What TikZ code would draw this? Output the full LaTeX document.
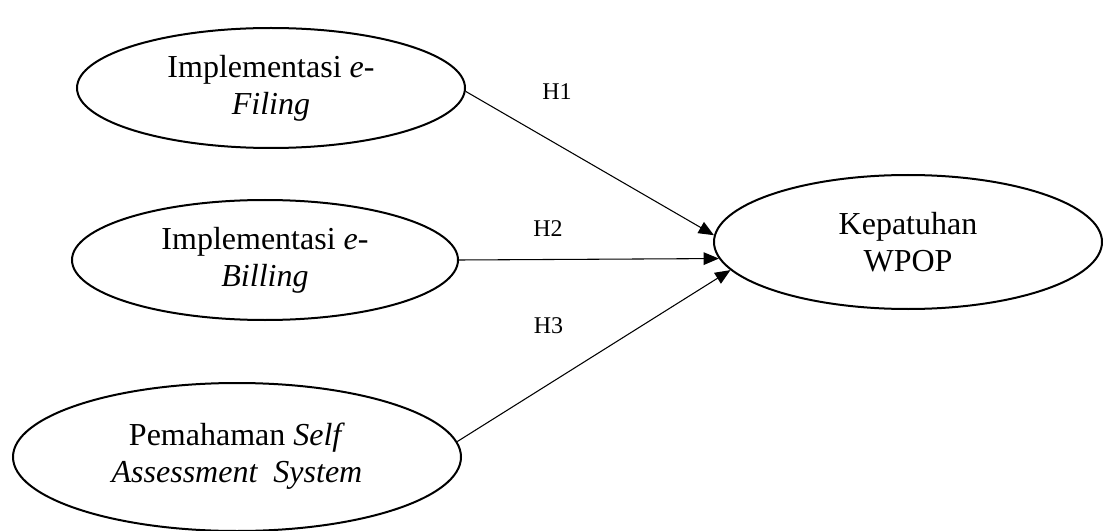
\documentclass[tikz,border=0pt]{standalone}
\usepackage{fontspec}
\setmainfont{Liberation Serif}
\usetikzlibrary{shapes.geometric,arrows.meta}
\begin{document}
\begin{tikzpicture}[x=0.75pt,y=-0.75pt,
  var/.style={ellipse,draw=black,line width=1.5pt,inner sep=0pt,align=center,
    font=\fontsize{24}{27.6}\selectfont},
  hyp/.style={font=\fontsize{18}{21}\selectfont,inner sep=0pt},
  path/.style={line width=0.8pt,-{Triangle[length=11.5pt,width=9.5pt]}}]
\useasboundingbox (0,0) rectangle (1103,531);
\node[var,minimum width=291pt,minimum height=90pt] (e1) at (271,88)
  {Implementasi \textit{e-}\\\textit{Filing}};
\node[var,minimum width=289.5pt,minimum height=90pt] (e2) at (265,260)
  {Implementasi \textit{e-}\\\textit{Billing}};
\node[var,minimum width=336pt,minimum height=111pt] (e3) at (237,457)
  {\raisebox{-7pt}{\begin{tabular}{@{}c@{}}Pemahaman \textit{Self}\\\textit{Assessment\ \ System}\end{tabular}}};
\node[var,minimum width=291pt,minimum height=100.5pt] (e4) at (908,242)
  {Kepatuhan\\WPOP};
\node[hyp] (h1) at (557,91.5) {H1};
\node[hyp] (h2) at (548,228.5) {H2};
\node[hyp] (h3) at (548.5,326) {H3};
\draw[path] (e1.-1.5) -- (e4.178.5);
\draw[path] (e2.0) -- (e4.185);
\draw[path] (e3.4.5) -- (e4.189.6);
\end{tikzpicture}
\end{document}
